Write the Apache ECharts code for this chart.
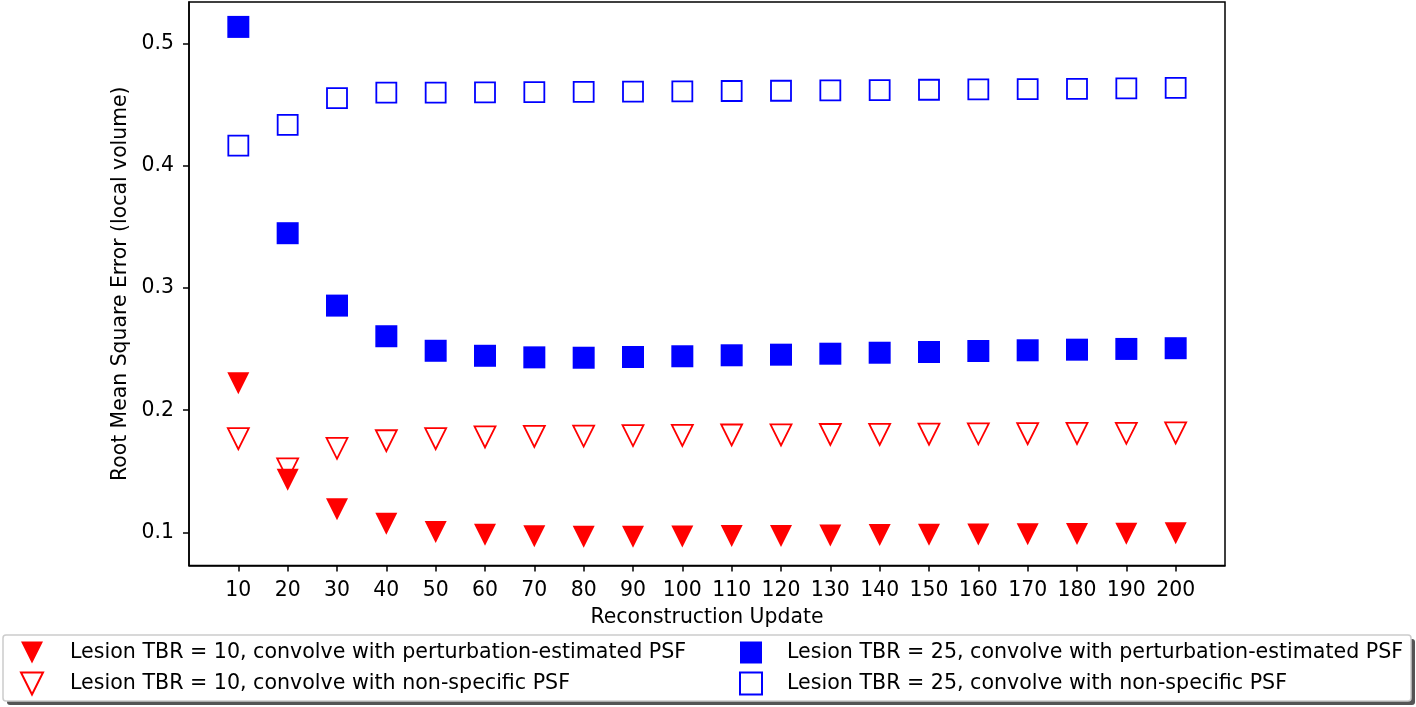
<!DOCTYPE html>
<html>
<head>
<meta charset="utf-8">
<script src="https://cdn.jsdelivr.net/npm/echarts@6/dist/echarts.min.js"></script>
<style>html,body{margin:0;padding:0;background:#fff}#c{width:1416px;height:707px}</style>
</head>
<body>
<div id="c"></div>
<script>
const updates = [10,20,30,40,50,60,70,80,90,100,110,120,130,140,150,160,170,180,190,200];
const yTicks = [0.1,0.2,0.3,0.4,0.5];
const tbr10Perturb = [0.222,0.143,0.1188,0.107,0.1003,0.098,0.0967,0.0963,0.0963,0.0966,0.0969,0.097,0.0973,0.0977,0.098,0.0981,0.0984,0.0986,0.0989,0.0992];
const tbr10NonSpec = [0.1767,0.152,0.1688,0.175,0.1767,0.1781,0.1785,0.1788,0.1792,0.1794,0.1797,0.1798,0.1801,0.1802,0.1804,0.1807,0.1808,0.181,0.1811,0.1814];
const tbr25Perturb = [0.514,0.345,0.2857,0.2606,0.2487,0.2446,0.2433,0.243,0.2436,0.2442,0.245,0.2455,0.2463,0.2471,0.2477,0.2485,0.2491,0.2496,0.2502,0.2508];
const tbr25NonSpec = [0.4167,0.4337,0.4556,0.4601,0.4602,0.4604,0.4606,0.4608,0.461,0.4612,0.4615,0.4617,0.462,0.4622,0.4625,0.4628,0.463,0.4633,0.4636,0.464];
const names = [
  'Lesion TBR = 10, convolve with perturbation-estimated PSF',
  'Lesion TBR = 10, convolve with non-specific PSF',
  'Lesion TBR = 25, convolve with perturbation-estimated PSF',
  'Lesion TBR = 25, convolve with non-specific PSF'
];
const pairs = arr => updates.map((u,i)=>[u,arr[i]]);
const FONT = 'DejaVu Sans';
const DOWN_TRI = 'path://M0,0L20,0L10,20Z';
const chart = echarts.init(document.getElementById('c'), null, {renderer:'canvas'});
const legendText = {fontFamily:FONT, fontSize:20.6, color:'#000'};
chart.setOption({
  animation:false,
  backgroundColor:'#fff',
  grid:{left:189, right:191, top:2, bottom:141.5, show:true, borderColor:'#000', borderWidth:1.5, backgroundColor:'transparent'},
  xAxis:{
    type:'value', min:0, max:210,
    name:'Reconstruction Update', nameLocation:'middle', nameGap:42,
    nameTextStyle:{fontFamily:FONT, fontSize:20.4, color:'#000'},
    axisLine:{show:true, lineStyle:{color:'#000', width:1.5}},
    axisTick:{show:true, length:6, lineStyle:{color:'#000', width:1.5}, customValues:updates},
    axisLabel:{fontFamily:FONT, fontSize:20.4, color:'#000', margin:15, customValues:updates},
    splitLine:{show:false}
  },
  yAxis:{
    type:'value', min:0.0728, max:0.5344,
    name:'Root Mean Square Error (local volume)', nameLocation:'middle', nameGap:57,
    nameTextStyle:{fontFamily:FONT, fontSize:20.4, color:'#000'},
    axisLine:{show:true, lineStyle:{color:'#000', width:1.5}},
    axisTick:{show:true, length:6, lineStyle:{color:'#000', width:1.5}, customValues:yTicks},
    axisLabel:{fontFamily:FONT, fontSize:20.4, color:'#000', margin:15, customValues:yTicks, formatter:v=>v.toFixed(1)},
    splitLine:{show:false}
  },
  graphic:[
    {type:'rect', z:0, shape:{x:7, y:639, width:1408, height:66, r:3}, style:{fill:'#555'}},
    {type:'rect', z:1, shape:{x:3, y:635, width:1408, height:66, r:3}, style:{fill:'#fff', stroke:'#cccccc', lineWidth:1.5}}
  ],
  legend:[
    {data:[{name:names[0], icon:DOWN_TRI},{name:names[1], icon:DOWN_TRI}], orient:'vertical', left:20, top:641.5, padding:0, itemGap:8, itemWidth:22, itemHeight:22, z:10,
     textStyle:Object.assign({padding:[0,0,0,22]}, legendText)},
    {data:[names[2],names[3]], orient:'vertical', left:739, top:641.5, padding:0, itemGap:8, itemWidth:22, itemHeight:22, z:10,
     textStyle:Object.assign({padding:[0,0,0,20]}, legendText)}
  ],
  series:[
    {name:names[1], type:'scatter', data:pairs(tbr10NonSpec), symbol:DOWN_TRI, symbolSize:[21,21],
     itemStyle:{color:'rgba(255,255,255,0)', borderColor:'#ff0000', borderWidth:1.8, opacity:1}, z:2},
    {name:names[0], type:'scatter', data:pairs(tbr10Perturb), symbol:DOWN_TRI, symbolSize:[22,22],
     itemStyle:{color:'#ff0000', opacity:1}, z:3},
    {name:names[3], type:'scatter', data:pairs(tbr25NonSpec), symbol:'rect', symbolSize:[20,20],
     itemStyle:{color:'rgba(255,255,255,0)', borderColor:'#0000ff', borderWidth:1.8, opacity:1}, z:2},
    {name:names[2], type:'scatter', data:pairs(tbr25Perturb), symbol:'rect', symbolSize:[22,22],
     itemStyle:{color:'#0000ff', opacity:1}, z:3}
  ]
});
</script>
</body>
</html>
